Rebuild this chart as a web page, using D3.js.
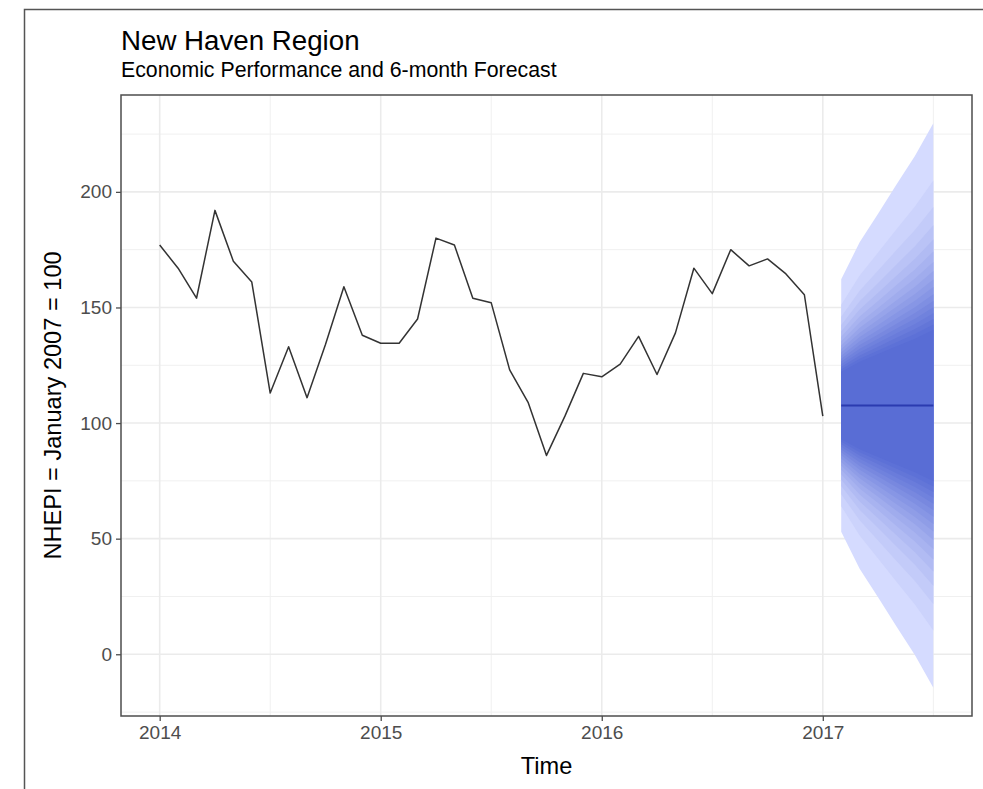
<!DOCTYPE html>
<html>
<head>
<meta charset="utf-8">
<script src="https://cdn.jsdelivr.net/npm/d3@7"></script>
<style>
  body { margin: 0; background: #fff; }
  svg { display: block; font-family: "Liberation Sans", Arial, sans-serif; }
</style>
</head>
<body>
<div id="chart"></div>
<script>
// monthly index, Jan 2014 .. Jan 2017
const startYear = 2014;
const nhepi = [177, 167, 154, 192, 170, 161, 113, 133, 111, 134, 159, 138,
               134.5, 134.5, 145, 180, 177, 154, 152, 123, 109, 86, 103, 121.5,
               120, 125.5, 137.5, 121, 139, 167, 156, 175, 168, 171, 164.5, 155.5,
               103];

// 6-month forecast, Feb 2017 .. Jul 2017
const fcHorizon = [1, 2, 3, 4, 5, 6];
const fcMean = [107.6, 107.6, 107.6, 107.6, 107.6, 107.6];
const fcSd = [21.2, 27.4, 32.2, 37.1, 41.9, 47.4];

// fan levels (%) and matching normal quantiles
const fanLevels = [51, 54, 57, 60, 63, 66, 69, 72, 75, 78, 81, 84, 87, 90, 93, 96, 99];
const fanZ = [0.6903, 0.7388, 0.7892, 0.8416, 0.8965, 0.9542, 1.0152, 1.0803, 1.1503,
              1.2265, 1.3106, 1.4051, 1.5141, 1.6449, 1.8119, 2.0537, 2.5758];

const yTicks = [0, 50, 100, 150, 200];
const yMinor = [-25, 25, 75, 125, 175, 225];
const xTicks = [2014, 2015, 2016, 2017];
const xMinor = [2014.5, 2015.5, 2016.5, 2017.5];

const width = 983, height = 789;
const panel = { left: 121, right: 972, top: 95, bottom: 716 };

const svg = d3.select("#chart").append("svg")
  .attr("width", width)
  .attr("height", height);

// screenshot frame
svg.append("path")
  .attr("d", "M24.5,789V9.5H983")
  .attr("fill", "none")
  .attr("stroke", "#555")
  .attr("stroke-width", 1.5);

const series = nhepi.map((v, i) => ({ t: startYear + i / 12, v: v }));
const lastT = series[series.length - 1].t;
const fc = fcHorizon.map((h, i) => ({ t: lastT + h / 12, mean: fcMean[i], sd: fcSd[i] }));

// ggplot-like 5% expansion
const zMax = fanZ[fanZ.length - 1];
const allY = nhepi.concat(fc.map(d => d.mean + zMax * d.sd), fc.map(d => d.mean - zMax * d.sd));
const yExt = d3.extent(allY);
const xExt = [series[0].t, fc[fc.length - 1].t];
const padY = (yExt[1] - yExt[0]) * 0.05;
const padX = (xExt[1] - xExt[0]) * 0.05;

const x = d3.scaleLinear()
  .domain([xExt[0] - padX, xExt[1] + padX])
  .range([panel.left, panel.right]);
const y = d3.scaleLinear()
  .domain([yExt[0] - padY, yExt[1] + padY])
  .range([panel.bottom, panel.top]);

const pw = panel.right - panel.left, ph = panel.bottom - panel.top;

// grid
const grid = svg.append("g");
grid.selectAll(".ymin").data(yMinor).enter().append("line")
  .attr("x1", panel.left).attr("x2", panel.right)
  .attr("y1", d => y(d)).attr("y2", d => y(d))
  .attr("stroke", "#f0f0f0").attr("stroke-width", 1);
grid.selectAll(".xmin").data(xMinor).enter().append("line")
  .attr("y1", panel.top).attr("y2", panel.bottom)
  .attr("x1", d => x(d)).attr("x2", d => x(d))
  .attr("stroke", "#f0f0f0").attr("stroke-width", 1);
grid.selectAll(".ymaj").data(yTicks).enter().append("line")
  .attr("x1", panel.left).attr("x2", panel.right)
  .attr("y1", d => y(d)).attr("y2", d => y(d))
  .attr("stroke", "#ebebeb").attr("stroke-width", 1.6);
grid.selectAll(".xmaj").data(xTicks).enter().append("line")
  .attr("y1", panel.top).attr("y2", panel.bottom)
  .attr("x1", d => x(d)).attr("x2", d => x(d))
  .attr("stroke", "#ebebeb").attr("stroke-width", 1.6);

// forecast fan, outer band first
const shade = d3.interpolateRgb("#596DD5", "#D5DBFF");
const bands = fanZ.map((z, k) => ({ level: fanLevels[k], z: z, k: k }))
  .reverse();
svg.append("g").selectAll("path").data(bands).enter().append("path")
  .attr("d", b => d3.area()
    .x(d => x(d.t))
    .y0(d => y(d.mean - b.z * d.sd))
    .y1(d => y(d.mean + b.z * d.sd))(fc))
  .attr("fill", b => shade(Math.pow(b.k / (fanZ.length - 1), 1.2)));

// point forecast
svg.append("path")
  .datum(fc)
  .attr("d", d3.line().x(d => x(d.t)).y(d => y(d.mean)))
  .attr("fill", "none")
  .attr("stroke", "#2b3bb0")
  .attr("stroke-width", 2);

// observed series
svg.append("path")
  .datum(series)
  .attr("d", d3.line().x(d => x(d.t)).y(d => y(d.v)))
  .attr("fill", "none")
  .attr("stroke", "#333")
  .attr("stroke-width", 1.5)
  .attr("stroke-linejoin", "round");

// panel border
svg.append("rect")
  .attr("x", panel.left).attr("y", panel.top)
  .attr("width", pw).attr("height", ph)
  .attr("fill", "none")
  .attr("stroke", "#4d4d4d")
  .attr("stroke-width", 1.5);

// axes
const yAxis = svg.append("g")
  .attr("transform", `translate(${panel.left},0)`)
  .call(d3.axisLeft(y).tickValues(yTicks).tickSize(5).tickPadding(4));
const xAxis = svg.append("g")
  .attr("transform", `translate(0,${panel.bottom})`)
  .call(d3.axisBottom(x).tickValues(xTicks).tickFormat(d3.format("d")).tickSize(5).tickPadding(5));
[yAxis, xAxis].forEach(a => {
  a.select(".domain").remove();
  a.selectAll(".tick line").attr("stroke", "#4d4d4d").attr("stroke-width", 1.3);
  a.selectAll(".tick text").attr("fill", "#4d4d4d").style("font-size", "19px")
    .style("font-family", "Liberation Sans, Arial, sans-serif");
});

// titles
svg.append("text")
  .attr("x", 121).attr("y", 50)
  .style("font-size", "27.7px")
  .attr("fill", "#000")
  .text("New Haven Region");
svg.append("text")
  .attr("x", 121).attr("y", 77)
  .style("font-size", "21.3px")
  .attr("fill", "#000")
  .text("Economic Performance and 6-month Forecast");
svg.append("text")
  .attr("x", (panel.left + panel.right) / 2).attr("y", 774)
  .attr("text-anchor", "middle")
  .style("font-size", "23.6px")
  .text("Time");
svg.append("text")
  .attr("transform", `translate(61,${(panel.top + panel.bottom) / 2}) rotate(-90)`)
  .attr("text-anchor", "middle")
  .style("font-size", "23.6px")
  .text("NHEPI = January 2007 = 100");
</script>
</body>
</html>
